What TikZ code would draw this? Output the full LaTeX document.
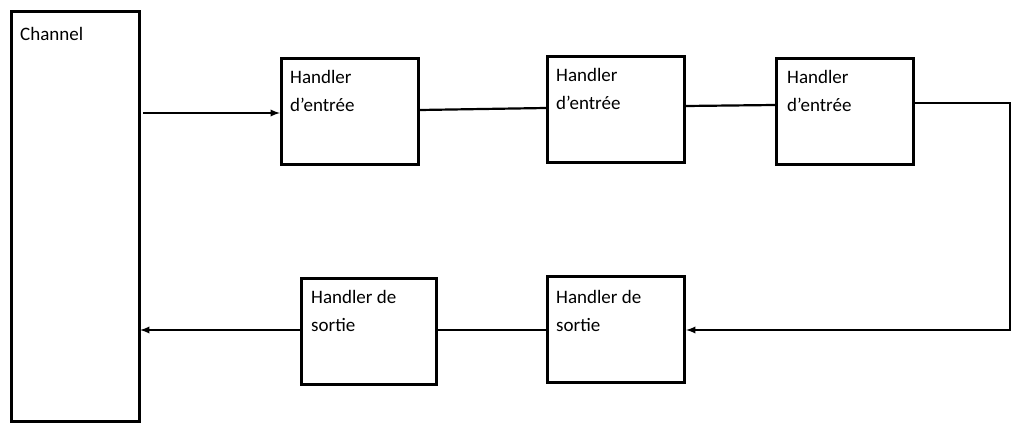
\documentclass[tikz,border=0pt]{standalone}
\usepackage{fontspec}
\setmainfont{Carlito}
\begin{document}
\begin{tikzpicture}[x=1pt,y=-1pt,
  box/.style={draw,line width=3pt,minimum width=137pt,minimum height=106pt,anchor=north west,inner sep=0pt},
  lbl/.style={anchor=north west,align=left,font=\fontsize{19}{28}\selectfont,inner sep=0pt},
  con/.style={line width=2.2pt},
  arr/.style={con,-latex}]
\useasboundingbox (0,0) rectangle (1023,438);
\node[box,minimum width=128pt,minimum height=410pt] (ch) at (10,10) {};
\node[lbl] at (20,27) {Channel};
\node[box] (h1) at (280,57) {};
\node[box] (h2) at (546,55) {};
\node[box] (h3) at (775,57) {};
\node[box] (s2) at (546,275) {};
\node[box,minimum width=135pt] (s1) at (300,277) {};
\node[lbl] at (290,70) {Handler\\d’entrée};
\node[lbl] at (556,68) {Handler\\d’entrée};
\node[lbl] at (787,70) {Handler\\d’entrée};
\node[lbl] at (556,290) {Handler de\\sortie};
\node[lbl] at (311,290) {Handler de\\sortie};
\coordinate (a) at (143,113);
\coordinate (c1) at (1010,103);
\coordinate (c2) at (1010,330);
\coordinate (e) at (140,330);
\draw[arr] (a) -- (h1.west|-a);
\draw[con] (h1.east|-0,110) -- (h2.west|-0,108);
\draw[con] (h2.east|-0,106) -- (h3.west|-0,105);
\draw[con,-latex] (h3.east|-c1) -- (c1) -- (c2) -- (s2.east|-c2);
\draw[con] (s2.west|-c2) -- (s1.east|-c2);
\draw[arr] (s1.west|-c2) -- (e);
\end{tikzpicture}
\end{document}
